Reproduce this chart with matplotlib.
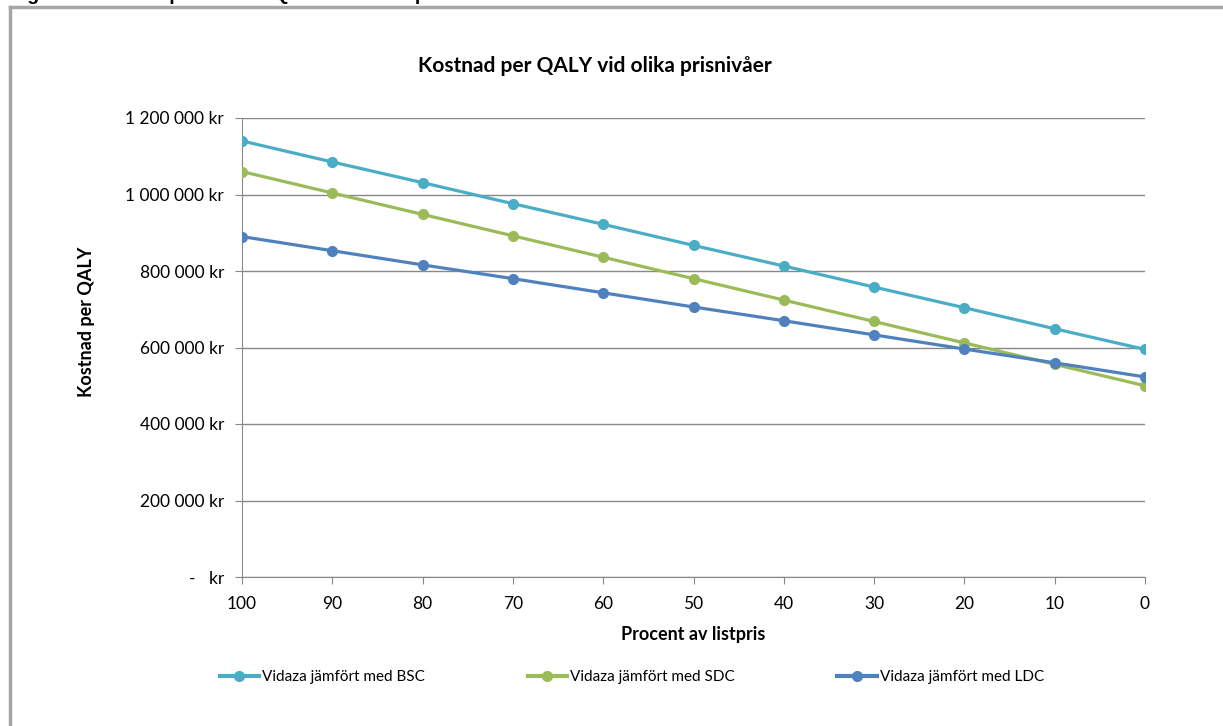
import matplotlib
matplotlib.use('Agg')
import matplotlib.pyplot as plt
from matplotlib.lines import Line2D
from matplotlib.ticker import FuncFormatter

# Data
procent = [100, 90, 80, 70, 60, 50, 40, 30, 20, 10, 0]
bsc = [1140000, 1085000, 1031000, 976000, 922000, 867000, 813000, 758000, 704000, 649000, 595000]
sdc = [1060000, 1004000, 948000, 892000, 836000, 780000, 724000, 668000, 612000, 556000, 500000]
ldc = [890000, 853000, 816000, 780000, 743000, 706000, 670000, 633000, 596000, 560000, 523000]
serie_namn = ['Vidaza jämfört med BSC', 'Vidaza jämfört med SDC', 'Vidaza jämfört med LDC']
farger = ['#4BACC6', '#9BBB59', '#4F81BD']

plt.rcParams['font.family'] = ['Lato', 'DejaVu Sans']

fig = plt.figure(figsize=(12.23, 7.26), dpi=100)
ax = fig.add_axes([242 / 1223, 1 - 577 / 726, (1145 - 242) / 1223, (577 - 118) / 726])

for vals, namn, c in zip([bsc, sdc, ldc], serie_namn, farger):
    ax.plot(procent, vals, color=c, lw=2.3, marker='o', markersize=7, label=namn, zorder=3)

ax.set_xlim(100, 0)
ax.set_ylim(0, 1200000)
ax.set_xticks(procent)
ax.set_yticks(range(0, 1200001, 200000))


def kr_fmt(v, pos):
    if v == 0:
        return '-   kr'
    return f'{int(v):,} kr'.replace(',', ' ')


ax.yaxis.set_major_formatter(FuncFormatter(kr_fmt))
ax.grid(axis='y', color='#888888', lw=1)
ax.set_axisbelow(True)
for s in ['top', 'right']:
    ax.spines[s].set_visible(False)
for s in ['left', 'bottom']:
    ax.spines[s].set_color('#888888')
ax.tick_params(axis='both', colors='#888888', labelcolor='black', labelsize=12.5, length=5)
ax.tick_params(axis='y', pad=8)
ax.tick_params(axis='x', pad=9)

ax.set_xlabel('Procent av listpris', fontsize=13, fontweight='bold', labelpad=10)
ax.set_ylabel('Kostnad per QALY', fontsize=13, fontweight='bold')
ax.yaxis.set_label_coords(-0.163, 0.556)
fig.text(595 / 1223, 1 - 66 / 726, 'Kostnad per QALY vid olika prisnivåer',
         ha='center', va='center', fontsize=15, fontweight='bold')

leg = fig.legend(loc='center', bbox_to_anchor=(632 / 1223, 1 - 677 / 726), ncol=3, frameon=False,
                 fontsize=11, handlelength=2.6, columnspacing=6.7, handletextpad=0.2)
for h in leg.legend_handles:
    h.set_linewidth(3)

# clipped caption above the frame and the frame itself
fig.text(10 / 1223, 1.0, 'Figur 4. Kostnad per vunnet QALY vid olika prisnivåer',
         ha='left', va='baseline', fontsize=14, fontweight='bold',
         family=['Liberation Sans', 'DejaVu Sans'])
fig.add_artist(Line2D([10 / 1223, 10 / 1223], [0, 1 - 7 / 726], color='#A6A6A6', lw=2.5,
                      transform=fig.transFigure))
fig.add_artist(Line2D([10 / 1223, 1], [1 - 7 / 726, 1 - 7 / 726], color='#A6A6A6', lw=2.5,
                      transform=fig.transFigure))

fig.savefig('out.png', dpi=100)
